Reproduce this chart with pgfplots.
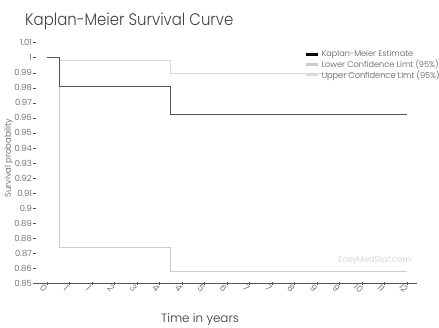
\documentclass[border=0pt]{standalone}
\usepackage{pgfplots}
\pgfplotsset{compat=1.18}
\usepackage{fontspec}
\setmainfont{Poppins Light}
\definecolor{kmc}{HTML}{555555}
\definecolor{loc}{HTML}{CCCCCC}
\definecolor{upc}{HTML}{DADADA}
\definecolor{txt}{HTML}{555555}
\begin{document}
\begin{tikzpicture}
\begin{axis}[
  at={(36bp,44.7bp)}, anchor=south west,
  scale only axis, width=381bp, height=240.6bp,
  xmin=-0.367, xmax=12.33, ymin=0.85, ymax=1.01,
  axis x line*=bottom, axis y line*=left,
  y axis line style={draw=none},
  x axis line style={draw=kmc, line width=0.8pt},
  /pgf/number format/assume math mode=true,
  ytick={0.85,0.86,...,1.011},
  yticklabels={0.85,0.86,0.87,0.88,0.89,0.9,0.91,0.92,0.93,0.94,0.95,0.96,0.97,0.98,0.99,1,1.01},
  xtick={0,0.75,...,12.01},
  xticklabels={0,1,1,2,3,4,4,5,6,7,7,8,9,9,10,11,12},
  tick style={draw=kmc, line width=0.5pt},
  ytick align=outside, major tick length=3bp,
  xtick align=center,
  yticklabel style={font=\fontsize{8.5}{9}\selectfont, text=txt, inner sep=1pt},
  xticklabel style={font=\fontsize{9}{10}\selectfont, text=txt, rotate=-45, anchor=north, inner sep=0.5pt, yshift=-1bp},
  ylabel={Survival probability},
  ylabel style={font=\fontsize{8.5}{9}\selectfont, text=txt, at={(-19.5bp,0.52)}, anchor=south},
  xlabel={Time in years},
  xlabel style={font=\fontsize{12}{13}\selectfont, text=black!80, at={(164bp,-39bp)}, anchor=base},
  legend style={draw=none, fill=none, at={(0.705,0.976)}, anchor=north west,
    font=\fontsize{8.2}{9}\selectfont, text=txt, row sep=-2.5bp, inner sep=0pt,
    /tikz/every even column/.append style={column sep=2bp}},
  legend cell align=left,
  clip=false,
]
\addlegendimage{legend image code/.code={\draw[black, line width=3pt] (0bp,0bp) -- (12bp,0bp);}}
\addlegendentry{Kaplan-Meier Estimate}
\addlegendimage{legend image code/.code={\draw[loc, line width=3pt] (0bp,0bp) -- (12bp,0bp);}}
\addlegendentry{Lower Confidence Limt (95\%)}
\addlegendimage{legend image code/.code={\draw[upc, line width=3pt] (0bp,0bp) -- (12bp,0bp);}}
\addlegendentry{Upper Confidence Limt (95\%)}
\addplot[upc, line width=1pt, const plot, forget plot] coordinates {(0,1) (0.41,0.998) (4.12,0.9895) (12,0.9895)};
\addplot[loc, line width=1pt, const plot, forget plot] coordinates {(0,1) (0.41,0.874) (4.12,0.8577) (12,0.8577)};
\addplot[kmc, line width=1.1pt, const plot, forget plot] coordinates {(0,1) (0.41,0.981) (4.12,0.9625) (12,0.9625)};
\node[font=\fontsize{8.3}{9}\selectfont, text=loc, anchor=base] at (axis cs:10.92,0.8635) {EasyMedStat.com};
\end{axis}
\node[anchor=base west, font=\fontsize{15}{16}\selectfont, text=black!75, inner sep=0pt] at (25bp,302bp) {\scalebox{1}[1.12]{Kaplan-Meier Survival Curve}};
\pgfresetboundingbox
\useasboundingbox (0,0) rectangle (439bp,328bp);
\end{tikzpicture}
\end{document}
